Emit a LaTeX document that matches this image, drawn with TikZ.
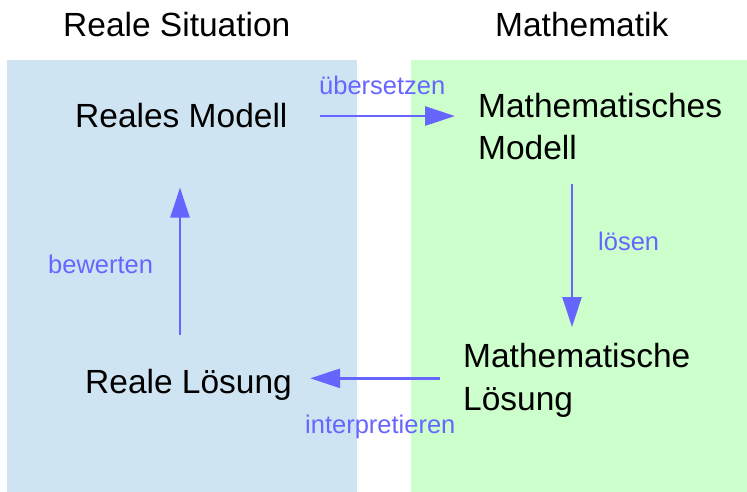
\documentclass[tikz,border=0pt]{standalone}
\usepackage{fontspec}
\setmainfont{Liberation Sans}
\usetikzlibrary{arrows.meta}
\definecolor{realblau}{HTML}{CFE4F3}
\definecolor{mathgruen}{HTML}{CCFFCC}
\definecolor{pfeilblau}{HTML}{6666FF}

\begin{document}
\begin{tikzpicture}[x=1pt, y=-1pt,
  gross/.style={inner sep=0pt, font=\fontsize{33.5}{42.5}\selectfont, align=left},
  klein/.style={inner sep=0pt, text=pfeilblau, font=\fontsize{25.5}{30}\selectfont},
  pfeil/.style={draw=pfeilblau, line width=2.7pt, -{Triangle[length=30pt, width=19pt]}}]
\path[fill=white] (0,0) rectangle (747,492);
\fill[realblau] (7,60) rectangle (357,492);
\fill[mathgruen] (411,60) rectangle (747,492);
\node[gross, anchor=base west] (rs) at (63,37) {Reale Situation};
\node[gross, anchor=base west] (ma) at (495,37) {Mathematik};
\node[gross, anchor=base west] (rm) at (75,128) {Reales Modell};
\node[gross, anchor=base west] (mm) at (478,160) {Mathematisches\\Modell};
\node[gross, anchor=base west] (ml) at (463,410) {Mathematische\\Lösung};
\node[gross, anchor=base west] (rl) at (85,393) {Reale Lösung};
\node[klein, anchor=base west] (ue) at (319,95) {übersetzen};
\node[klein, anchor=base west] (lo) at (598,250) {lösen};
\node[klein, anchor=base west] (ip) at (305,433) {interpretieren};
\node[klein, anchor=base west] (bw) at (48,273) {bewerten};
\draw[pfeil] ([xshift=32pt]rm.east) -- ([xshift=-23pt]rm.east -| mm.west);
\draw[pfeil] ([xshift=94pt,yshift=-23pt]mm.south west) -- ([xshift=109pt,yshift=16pt]ml.north west);
\draw[pfeil] ([xshift=-23pt,yshift=6pt]ml.west |- rl.east) -- ([xshift=18pt,yshift=6pt]rl.east);
\draw[pfeil] ([xshift=95pt,yshift=34pt]rl.north west) -- ([xshift=105pt,yshift=-59pt]rm.south west);
\useasboundingbox (0,0) rectangle (747,492);
\end{tikzpicture}
\end{document}
